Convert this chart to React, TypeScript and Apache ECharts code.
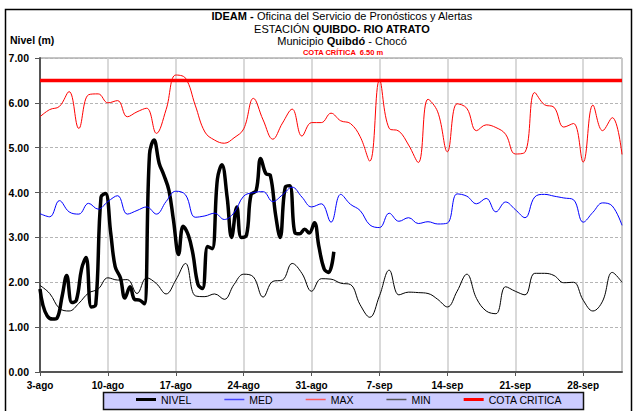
import React, { useEffect, useRef } from 'react';
import * as echarts from 'echarts';

// Weekly tick labels (x axis starts on 3 Aug, one point per day, 61 days)
const xTickLabels = ['3-ago', '10-ago', '17-ago', '24-ago', '31-ago', '7-sep', '14-sep', '21-sep', '28-sep'];
const dayCount = 61;

// Historical daily maximum level (m)
const maxVals = [
  5.69, 5.85, 5.92, 6.25, 5.43, 6.18, 6.2, 6.0, 6.05, 5.69,
  5.8, 5.88, 5.32, 5.85, 6.62, 6.55, 5.95, 5.35, 5.17, 5.1,
  5.22, 5.42, 6.1, 5.62, 5.19, 5.55, 5.86, 5.26, 5.56, 5.56,
  5.77, 5.6, 5.54, 5.25, 4.7, 6.51, 5.43, 5.37, 5.06, 4.67,
  6.08, 5.8, 4.91, 5.98, 5.88, 5.38, 5.51, 5.45, 5.3, 4.86,
  4.9, 6.23, 5.96, 5.9, 5.46, 5.54, 4.68, 5.95, 5.38, 5.67, 4.85,
];

// Historical daily mean level (m)
const medVals = [
  3.53, 3.46, 3.82, 3.57, 3.52, 3.76, 3.63, 3.8, 3.93, 3.52,
  3.6, 3.68, 3.52, 3.8, 4.03, 3.95, 3.45, 3.48, 3.54, 3.4,
  3.55, 3.92, 4.0, 4.02, 3.8, 3.95, 4.12, 3.9, 3.68, 3.75,
  3.34, 3.96, 3.74, 3.6, 3.28, 3.22, 3.54, 3.36, 3.44, 3.31,
  3.35, 3.3, 3.32, 3.97, 3.92, 3.75, 3.87, 3.57, 3.79, 3.62,
  3.44, 3.9, 3.96, 3.92, 3.88, 3.84, 3.34, 3.56, 3.77, 3.7, 3.27,
];

// Historical daily minimum level (m)
const minVals = [
  1.93, 1.75, 1.42, 1.36, 1.53, 1.76, 1.85, 2.1, 2.05, 2.06,
  1.75, 2.1, 1.97, 1.74, 2.05, 2.42, 1.7, 1.68, 1.74, 1.62,
  1.95, 2.18, 2.12, 1.67, 2.02, 2.05, 2.42, 2.2, 1.8, 2.08,
  2.07, 1.98, 1.95, 1.5, 1.22, 1.7, 2.27, 1.72, 1.78, 1.77,
  1.75, 1.62, 1.45, 1.8, 2.18, 1.64, 1.36, 1.3, 1.9, 1.8,
  1.72, 2.2, 2.2, 2.15, 1.99, 2.0, 1.6, 1.36, 1.58, 2.22, 2.0,
];

// Observed level (two readings a day), time in days since 3 Aug
const nivelT = [
  0, 0.29, 0.75, 1.29, 1.75, 2.29, 2.75, 3.29, 3.75, 4.29,
  4.75, 5.29, 5.75, 6.29, 6.75, 7.29, 7.75, 8.29, 8.75, 9.29,
  9.75, 10.29, 10.75, 11.29, 11.75, 12.29, 12.75, 13.29, 13.75, 14.29,
  14.75, 15.29, 15.75, 16.29, 16.75, 17.29, 17.75, 18.29, 18.75, 19.29,
  19.75, 20.29, 20.75, 21.29, 21.75, 22.29, 22.75, 23.29, 23.75, 24.29,
  24.75, 25.29, 25.75, 26.29, 26.75, 27.29, 27.75, 28.29, 28.75, 29.29,
  29.75, 30.29,
];
const nivelVals = [
  1.85, 1.5, 1.25, 1.18, 1.2, 1.7, 2.15, 1.55, 1.6, 2.3,
  2.55, 1.45, 1.5, 3.9, 3.98, 3.1, 2.35, 2.1, 1.65, 1.9,
  1.62, 1.6, 1.52, 4.85, 5.17, 4.65, 4.4, 4.05, 3.4, 2.62,
  3.25, 3.05, 2.65, 1.95, 1.86, 2.8, 2.75, 4.3, 4.62, 3.9,
  3.0, 3.68, 3.0, 3.05, 3.95, 4.05, 4.76, 4.42, 4.38, 3.5,
  3.0, 4.12, 4.15, 3.1, 3.08, 3.18, 3.1, 3.33, 2.8, 2.3,
  2.22, 2.68,
];

const cotaCritica = 6.5;

export default function App() {
  const ref = useRef<HTMLDivElement>(null);

  useEffect(() => {
    document.body.style.margin = '0';
    const chart = echarts.init(ref.current!, null, { renderer: 'svg' });
    const font = 'Liberation Sans, Arial, sans-serif';
    const lastDay = dayCount - 1;
    const thickIcon = 'path://M0,0H40V6H0Z';
    const thinIcon = 'path://M0,0H40V3H0Z';

    chart.setOption({
      animation: false,
      backgroundColor: '#ffffff',
      grid: {
        left: 40,
        right: 20,
        top: 58,
        bottom: 39,
        show: true,
        borderColor: '#888888',
        borderWidth: 1,
        backgroundColor: 'transparent',
      },
      xAxis: {
        type: 'value',
        min: 0,
        max: lastDay,
        interval: 7,
        axisLine: { show: true, onZero: false, lineStyle: { color: '#555555', width: 2 } },
        axisTick: { show: true, length: 4, lineStyle: { color: '#555555', width: 1 } },
        axisLabel: {
          showMaxLabel: false,
          margin: 8,
          color: '#000',
          fontSize: 10,
          fontWeight: 'bold',
          fontFamily: font,
          formatter: (v: number) => (v % 7 === 0 ? xTickLabels[v / 7] ?? '' : ''),
        },
        splitLine: { show: true, lineStyle: { color: '#cccccc', width: 1.5 } },
      },
      yAxis: {
        type: 'value',
        min: 0,
        max: 7,
        interval: 1,
        axisLine: { show: true, lineStyle: { color: '#555555', width: 2 } },
        axisTick: { show: true, length: 5, lineStyle: { color: '#555555' } },
        axisLabel: {
          margin: 11,
          color: '#000',
          fontSize: 10.5,
          fontWeight: 'bold',
          fontFamily: font,
          formatter: (v: number) => v.toFixed(2),
        },
        splitLine: { show: true, lineStyle: { color: '#b5b5b5', width: 1, type: [3, 2] } },
      },
      legend: {
        left: 136,
        top: 394,
        padding: 0,
        itemWidth: 20,
        itemHeight: 14,
        itemGap: 33,
        textStyle: { fontSize: 10.5, fontFamily: font, color: '#000' },
        data: [
          { name: 'NIVEL', icon: thickIcon },
          { name: 'MED', icon: thinIcon },
          { name: 'MAX', icon: thinIcon },
          { name: 'MIN', icon: thinIcon },
          { name: 'COTA CRITICA', icon: thickIcon },
        ],
      },
      graphic: [
        {
          type: 'rect',
          z: 0,
          silent: true,
          shape: { x: 5.5, y: 9.5, width: 626, height: 420 },
          style: { fill: 'none', stroke: '#000', lineWidth: 1.5 },
        },
        {
          type: 'rect',
          z: 1,
          silent: true,
          shape: { x: 103.5, y: 392.5, width: 480, height: 17 },
          style: { fill: '#ccccff', stroke: '#111', lineWidth: 1.5 },
        },
        {
          type: 'text',
          x: 342,
          y: 16,
          style: {
            text: '{b|IDEAM -} Oficina del Servicio de Pronósticos y Alertas',
            fontSize: 11,
            fontFamily: font,
            fill: '#000',
            align: 'center',
            verticalAlign: 'middle',
            rich: { b: { fontWeight: 'bold', fontSize: 11, fontFamily: font } },
          },
        },
        {
          type: 'text',
          x: 342,
          y: 29,
          style: {
            text: 'ESTACIÓN {b|QUIBDO- RIO ATRATO}',
            fontSize: 11,
            fontFamily: font,
            fill: '#000',
            align: 'center',
            verticalAlign: 'middle',
            rich: { b: { fontWeight: 'bold', fontSize: 11, fontFamily: font } },
          },
        },
        {
          type: 'text',
          x: 342,
          y: 41,
          style: {
            text: 'Municipio {b|Quibdó} - Chocó',
            fontSize: 11,
            fontFamily: font,
            fill: '#000',
            align: 'center',
            verticalAlign: 'middle',
            rich: { b: { fontWeight: 'bold', fontSize: 11, fontFamily: font } },
          },
        },
        {
          type: 'text',
          x: 343,
          y: 52,
          style: {
            text: 'COTA CRÍTICA  6.50 m',
            fontSize: 7.5,
            fontWeight: 'bold',
            fontFamily: font,
            fill: '#ff0000',
            align: 'center',
            verticalAlign: 'middle',
          },
        },
        {
          type: 'text',
          x: 10,
          y: 40,
          style: {
            text: 'Nivel (m)',
            fontSize: 10.5,
            fontWeight: 'bold',
            fontFamily: font,
            fill: '#000',
            align: 'left',
            verticalAlign: 'middle',
          },
        },
      ],
      series: [
        {
          name: 'NIVEL',
          type: 'line',
          smooth: 0.4,
          symbol: 'none',
          data: nivelT.map((t, i) => [t, nivelVals[i]]),
          lineStyle: { color: '#000000', width: 3.5 },
          itemStyle: { color: '#000000' },
          z: 3,
        },
        {
          name: 'MED',
          type: 'line',
          smooth: 0.4,
          symbol: 'none',
          data: medVals.map((v, i) => [i, v]),
          lineStyle: { color: '#0000ff', width: 1 },
          itemStyle: { color: '#4444ff' },
          z: 4,
        },
        {
          name: 'MAX',
          type: 'line',
          smooth: 0.4,
          symbol: 'none',
          data: maxVals.map((v, i) => [i, v]),
          lineStyle: { color: '#ff0000', width: 1 },
          itemStyle: { color: '#ff5a5a' },
          z: 4,
        },
        {
          name: 'MIN',
          type: 'line',
          smooth: 0.4,
          symbol: 'none',
          data: minVals.map((v, i) => [i, v]),
          lineStyle: { color: '#000000', width: 1 },
          itemStyle: { color: '#555555' },
          z: 4,
        },
        {
          name: 'COTA CRITICA',
          type: 'line',
          symbol: 'none',
          data: [[0, cotaCritica], [lastDay, cotaCritica]],
          lineStyle: { color: '#ff0000', width: 3.5 },
          itemStyle: { color: '#ff0000' },
          z: 5,
        },
      ],
    });

    return () => chart.dispose();
  }, []);

  return <div ref={ref} style={{ width: 642, height: 411 }} />;
}
